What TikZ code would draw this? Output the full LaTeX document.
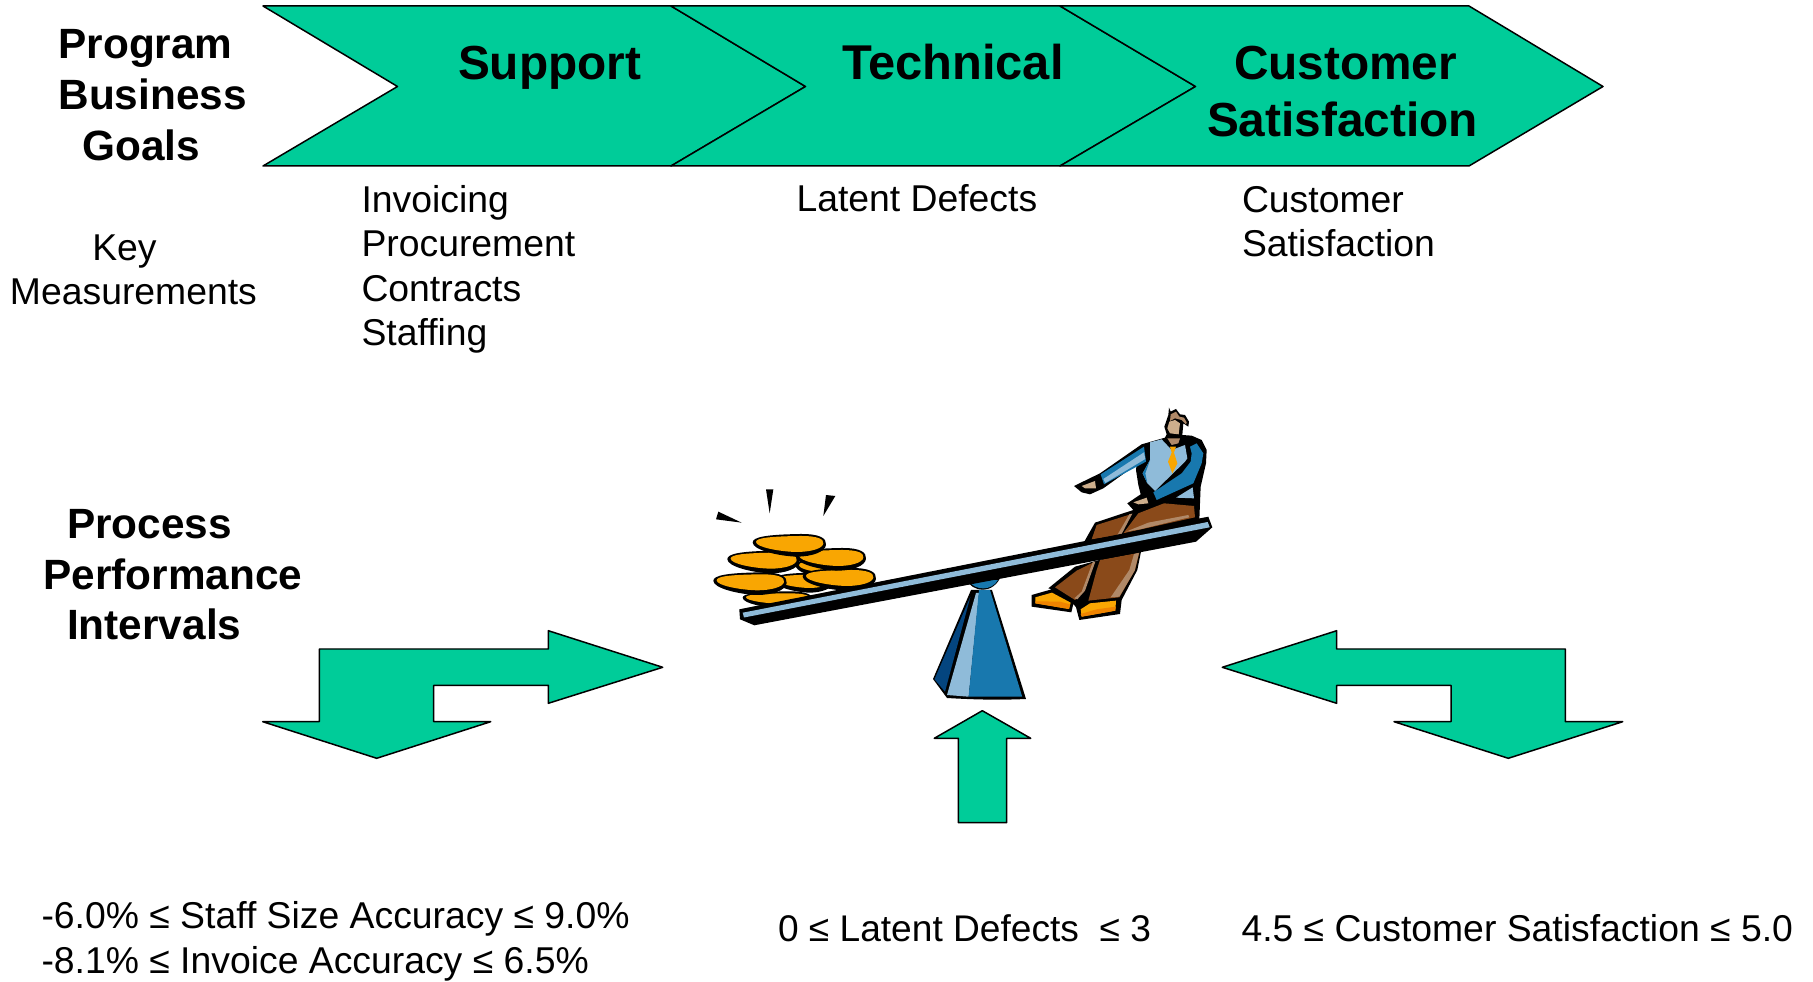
\documentclass[tikz,border=0pt]{standalone}
\usepackage{fontspec}
\setmainfont{Liberation Sans}
\definecolor{teal}{HTML}{00CC99}
\definecolor{coinor}{HTML}{F9A602}
\definecolor{shoedk}{HTML}{F08400}
\definecolor{bluelt}{HTML}{8FBBD9}
\definecolor{bluemd}{HTML}{1878AE}
\definecolor{bluedk}{HTML}{04457F}
\definecolor{pants}{HTML}{8A4A1A}
\definecolor{tan}{HTML}{B08968}
\definecolor{skin}{HTML}{CDAE8C}
\newlength{\pxu}\setlength{\pxu}{0.02cm}
\tikzset{
  arrowshape/.style={draw=black,fill=teal,line width=0.85pt,line join=round},
  txtlabel/.style={inner sep=0pt,outer sep=0pt,anchor=base west,align=left,text=black},
  regtext/.style={txtlabel,font=\fontsize{21.25pt}{25.4pt}\selectfont},
  headtext/.style={txtlabel,font=\fontsize{24.1pt}{29pt}\selectfont\bfseries},
  bigtext/.style={txtlabel,font=\fontsize{27.2pt}{32.4pt}\selectfont\bfseries},
  zoomed/.style={x=0.006667cm,y=-0.006667cm}
}
\newcommand{\coinpath}{(-1,-0.25) .. controls (-1,-0.75) and (-0.6,-0.95) .. (0.3,-1) .. controls (0.85,-1.02) and (1.02,-0.6) .. (1,-0.05) .. controls (0.98,0.6) and (0.6,1) .. (0.2,1) .. controls (-0.3,0.95) and (-1,0.4) .. (-1,-0.25) -- cycle}
\newcommand{\coin}[4]{%
  \begin{scope}[shift={(#1,#2)},x={0.006667cm*#3},y={-0.006667cm*#4}]
    \fill[black] \coinpath;
  \end{scope}
  \begin{scope}[shift={(#1+1,#2-4)},x={0.006667cm*(#3-9)},y={-0.006667cm*(#4-10)}]
    \fill[coinor] \coinpath;
  \end{scope}}
\begin{document}
\begin{tikzpicture}[x=0.02cm,y=-0.02cm]
\useasboundingbox (0,0) rectangle (1813,982);
% chevrons
\draw[arrowshape] (263,6) -- (671,6) -- (805.5,86.5) -- (671,166) -- (263,166) -- (397.5,86.5) -- cycle;
\draw[arrowshape] (671,6) -- (1060,6) -- (1195.5,86.5) -- (1060,166) -- (671,166) -- (805.5,86.5) -- cycle;
\draw[arrowshape] (1060,6) -- (1469,6) -- (1603,86.5) -- (1469,166) -- (1060,166) -- (1195.5,86.5) -- cycle;
% bent arrows
\draw[arrowshape] (662.7,667.3) -- (548.3,630.7) -- (548.3,649) -- (319.3,649) -- (319.3,721.7) -- (262.7,721.7) -- (376.7,758.3) -- (490.7,721.7) -- (433.7,721.7) -- (433.7,685.3) -- (548.3,685.3) -- (548.3,703.3) -- cycle;
\draw[arrowshape] (1222.3,667.3) -- (1336.7,630.7) -- (1336.7,649) -- (1565.3,649) -- (1565.3,721.7) -- (1622.7,721.7) -- (1508.3,758.3) -- (1394,721.7) -- (1451,721.7) -- (1451,685.3) -- (1336.7,685.3) -- (1336.7,703.3) -- cycle;
\draw[arrowshape] (982.3,710.7) -- (1030.7,738.3) -- (1006.7,738.3) -- (1006.7,822.7) -- (958.3,822.7) -- (958.3,738.3) -- (934.3,738.3) -- cycle;
% labels (anchored at the baseline of their last line)
\node[bigtext] (support) at (458,79.2) {Support};
\node[bigtext,font=\fontsize{27.8pt}{32.4pt}\selectfont\bfseries] (technical) at (842,79.2) {Technical};
\node[bigtext] (custsat) at (1207,136.2) {\hspace*{27\pxu}Customer\\Satisfaction};
\node[headtext] (goals) at (58.5,160.3) {Program\\Business\\\hspace*{24\pxu}Goals};
\node[regtext] (keym) at (10,305) {\hspace*{82.3\pxu}Key\\Measurements};
\node[regtext] (supportm) at (361.5,346) {Invoicing\\Procurement\\Contracts\\Staffing};
\node[regtext] (techm) at (796.5,212) {Latent Defects};
\node[regtext] (custm) at (1242,256.7) {Customer\\Satisfaction};
\node[headtext] (ppi) at (43.5,640) {\hspace*{23.7\pxu}Process\\Performance\\\hspace*{23.7\pxu}Intervals};
\node[regtext] (intl) at (41.5,973.5) {-6.0\% ≤ Staff Size Accuracy ≤ 9.0\%\\-8.1\% ≤ Invoice Accuracy ≤ 6.5\%};
\node[regtext,font=\fontsize{21.13pt}{25.4pt}\selectfont] (intm) at (778,941.3) {0 ≤ Latent Defects \ ≤ 3};
\node[regtext] (intr) at (1241.5,941.3) {4.5 ≤ Customer Satisfaction ≤ 5.0};
% coins (zoom 9 coordinates)
\begin{scope}[shift={(700,480)},zoomed]
  \fill (55,95) -- (125,128) -- (48,118) -- cycle;
  \fill (198,28) -- (220,28) -- (209,100) -- cycle;
  \fill (378,45) -- (406,48) -- (370,108) -- cycle;
\end{scope}
\begin{scope}[shift={(700,480)},zoomed]
  \coin{232}{360}{104}{26}
  \coin{310}{308}{90}{30}
  \coin{345}{263}{58}{26}
  \coin{418}{298}{110}{34}
  \coin{393}{238}{105}{34}
  \coin{150}{311}{110}{34}
  \coin{190}{246}{108}{34}
  \coin{268}{196}{110}{34}
\end{scope}
% man: legs below the beam (zoom 3 coordinates)
\begin{scope}[shift={(1040,400)},zoomed]
  \fill (25,565) -- (105,500) -- (305,445) -- (292,510) -- (245,600) -- (240,642) -- (118,660) -- (108,622) -- (100,612) -- (94,637) -- (-25,620) -- (-25,585) -- (35,568) -- cycle;
  \fill[pants] (45,562) -- (110,512) -- (165,485) -- (132,575) -- (105,600) -- cycle;
  \fill[tan] (158,487) -- (166,485) -- (135,572) -- (112,598) -- (103,595) -- (125,575) -- cycle;
  \fill[pants] (180,480) -- (298,458) -- (285,510) -- (238,592) -- (145,602) -- (170,510) -- cycle;
  \fill[tan] (282,462) -- (297,458) -- (284,512) -- (238,590) -- (212,592) -- (268,510) -- cycle;
  \fill[coinor] (-14,592) -- (36,578) -- (92,608) -- (87,627) -- (-14,610) -- cycle;
  \fill[shoedk] (-14,604) -- (60,605) -- (90,613) -- (87,627) -- (-14,610) -- cycle;
  \fill[coinor] (122,628) -- (150,610) -- (228,602) -- (226,632) -- (125,650) -- cycle;
  \fill[shoedk] (122,642) -- (170,628) -- (227,620) -- (226,632) -- (125,650) -- cycle;
\end{scope}
% man: upper body (zoom 10 coordinates)
\begin{scope}[shift={(1070,405)},zoomed]
  \fill (297,8) -- (302,20) -- (318,12) -- (330,28) -- (345,30) -- (357,50) -- (355,65) -- (340,55) -- (337,90) -- (365,92) -- (395,105) -- (410,135) -- (408,175) -- (392,245) -- (388,345) -- (40,415) -- (75,353) -- (190,315) -- (172,295) -- (212,268) -- (205,240) -- (198,195) -- (200,178) -- (100,250) -- (60,268) -- (35,262) -- (12,243) -- (90,205) -- (215,118) -- (285,98) -- (290,88) -- (283,65) -- (295,30) -- cycle;
  \fill[tan] (302,28) -- (318,20) -- (328,35) -- (342,38) -- (350,52) -- (348,58) -- (335,45) -- (315,40) -- (300,48) -- cycle;
  \fill[skin] (298,50) -- (315,45) -- (330,55) -- (326,88) -- (300,85) -- (292,70) -- cycle;
  \fill[tan] (292,100) -- (330,100) -- (325,115) -- (305,120) -- cycle;
  \fill[bluelt] (240,112) -- (275,103) -- (305,135) -- (345,120) -- (352,160) -- (345,170) -- (255,258) -- (232,235) -- (218,205) -- (240,165) -- cycle;
  \fill[bluemd] (240,165) -- (218,205) -- (232,235) -- (226,205) -- cycle;
  \fill[bluelt] (318,278) -- (368,247) -- (372,280) -- cycle;
  \fill[coinor] (300,125) -- (318,125) -- (312,143) -- (322,175) -- (307,205) -- (294,170) -- (305,143) -- cycle;
  \fill[bluemd] (360,125) -- (380,115) -- (400,145) -- (395,175) -- (370,235) -- (260,285) -- (250,262) -- (335,205) -- (362,170) -- (365,145) -- cycle;
  \fill[bluemd] (92,208) -- (222,125) -- (228,170) -- (102,238) -- cycle;
  \fill[bluelt] (100,222) -- (222,142) -- (226,162) -- (106,234) -- cycle;
  \fill[skin] (35,243) -- (75,228) -- (78,250) -- (45,250) -- cycle;
  \fill[skin] (190,292) -- (230,278) -- (235,295) -- (205,298) -- cycle;
\end{scope}
% man: thighs (zoom 3 coordinates)
\begin{scope}[shift={(1040,400)},zoomed]
  \fill[pants] (170,375) -- (275,342) -- (240,405) -- (155,418) -- cycle;
  \fill[pants] (295,340) -- (372,310) -- (462,318) -- (465,352) -- (250,400) -- cycle;
  \fill[tan] (268,343) -- (277,341) -- (245,402) -- (232,405) -- cycle;
  \fill[tan] (258,395) -- (325,368) -- (445,345) -- (448,352) -- (300,388) -- cycle;
\end{scope}
% fulcrum
\fill (971,590) -- (933,679) -- (947,698) .. controls (980,700) and (1005,700) .. (1026,699) -- (992,590) -- cycle;
\fill[bluedk] (934.5,679.3) -- (970.4,596.7) -- (945,691.7) -- cycle;
\fill[bluelt] (947,695) -- (976,593) -- (979,593) -- (968.6,696.7) -- cycle;
\fill[bluemd] (968.6,696.7) -- (979,590) -- (990,590) -- (1022.2,696.7) -- cycle;
\fill (966,578) .. controls (972,594) and (994,594) .. (1001,576) -- cycle;
\fill[bluemd] (969,581) .. controls (975,591) and (992,591) .. (998,580) -- cycle;
% beam
\fill (739.3,609.3) -- (1208.3,516.7) -- (1212.3,527.3) -- (1196,541.7) -- (754.3,625.3) -- (740,619.3) -- cycle;
\fill[bluelt] (742.7,612.7) -- (1207.7,522) -- (1209.7,527.3) -- (744,617.5) -- cycle;
\end{tikzpicture}
\end{document}
